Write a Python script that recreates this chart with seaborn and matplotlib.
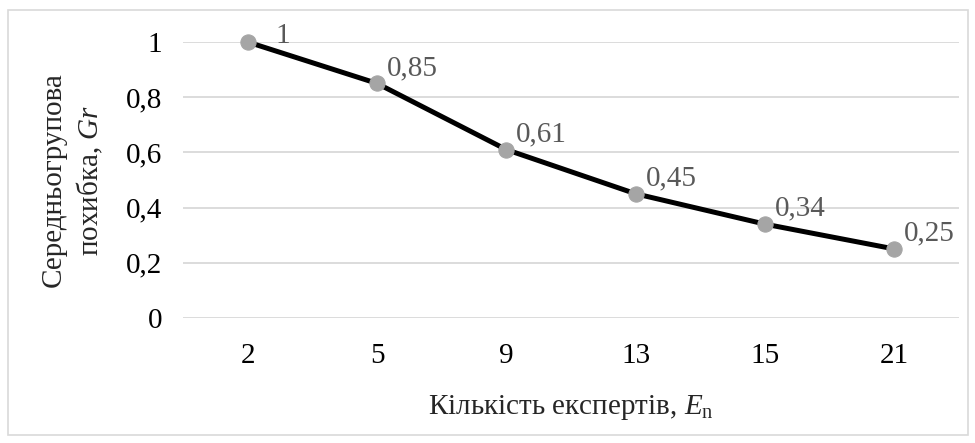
import matplotlib
matplotlib.use("Agg")
import matplotlib.pyplot as plt
from matplotlib.ticker import FuncFormatter
from matplotlib.patches import Rectangle
import seaborn as sns
import pandas as pd

# data
experts = ["2", "5", "9", "13", "15", "21"]
error_gr = [1.0, 0.85, 0.61, 0.45, 0.34, 0.25]
value_labels = ["1", "0,85", "0,61", "0,45", "0,34", "0,25"]
y_ticks = [0, 0.2, 0.4, 0.6, 0.8, 1.0]

sns.set_theme(style="white")
plt.rcParams["font.family"] = ["Liberation Serif", "DejaVu Serif"]
plt.rcParams["mathtext.fontset"] = "custom"
plt.rcParams["mathtext.rm"] = "Liberation Serif"
plt.rcParams["mathtext.it"] = "Liberation Serif:italic"

FS = 21

df = pd.DataFrame({"experts": experts, "gr": error_gr})

fig = plt.figure(figsize=(9.75, 4.43), dpi=100)
ax = fig.add_axes([0.1877, 0.2822, 0.796, 0.6230])

# outer chart border
fig.patches.append(Rectangle((8 / 975, 1 - 435 / 443), 960 / 975, 425 / 443,
                             transform=fig.transFigure, fill=False,
                             edgecolor="#D9D9D9", linewidth=1.2))

sns.lineplot(data=df, x="experts", y="gr", ax=ax, color="black", linewidth=3.6,
             marker="o", markersize=11, markerfacecolor="#A5A5A5",
             markeredgecolor="#A5A5A5", sort=False, zorder=3)
for line in ax.lines:
    line.set_clip_on(False)

# data labels (the top one is pushed right/down to stay inside the chart, like Excel)
for i, (v, lab) in enumerate(zip(error_gr, value_labels)):
    off = (7, 11) if v < max(y_ticks) else (20, 4)
    ax.annotate(lab, (i, v), xytext=off, textcoords="offset points",
                ha="left", va="center", fontsize=FS, color="#595959")

ax.set_xlim(-0.5, len(experts) - 0.5)
ax.set_ylim(0, 1)
ax.set_yticks(y_ticks)
ax.yaxis.set_major_formatter(FuncFormatter(lambda v, p: f"{v:g}".replace(".", ",")))
ax.yaxis.grid(True, color="#D9D9D9", linewidth=1.3)
ax.xaxis.grid(False)
ax.set_axisbelow(True)
for s in ax.spines.values():
    s.set_visible(False)
ax.tick_params(axis="both", length=0, labelsize=FS, colors="black")
ax.tick_params(axis="y", pad=15)
ax.tick_params(axis="x", pad=18)

ax.set_xlabel("Кількість експертів, $E_{\\mathrm{n}}$", fontsize=FS, labelpad=17)
ax.set_ylabel("Середньогрупова\nпохибка, $\\mathit{Gr}$", fontsize=FS, labelpad=15,
              linespacing=1.35)

fig.savefig("out.png", dpi=100)
